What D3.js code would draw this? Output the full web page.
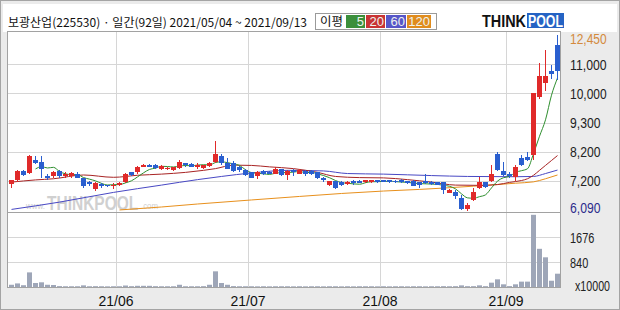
<!DOCTYPE html>
<html>
<head>
<meta charset="utf-8">
<script src="https://cdn.jsdelivr.net/npm/d3@7"></script>
<style>
  html, body { margin: 0; padding: 0; background: #e9e9e9; }
  svg { display: block; }
</style>
</head>
<body>
<svg id="chart" width="620" height="310"></svg>
<script>
// ---- data ----
const title = "보광산업(225530) · 일간(92일) 2021/05/04 ~ 2021/09/13";

// daily candles, 92 trading days 2021/05/04 .. 2021/09/13
const opens = [7070,7220,7530,7460,7900,7840,7340,7360,7530,7340,7340,7440,7270,7140,6900,7060,7030,6980,7020,7130,
  7480,7480,7670,7750,7750,7590,7580,7560,7640,7790,7770,7650,7640,7710,7850,8050,7810,7820,7670,7550,
  7480,7350,7520,7500,7440,7590,7380,7550,7440,7520,7530,7480,7290,7030,7170,7150,7080,7190,7190,7130,
  7130,7210,7210,7210,7200,7220,7180,7190,7130,7180,7140,7130,7130,6750,6780,6560,6140,6470,6930,7130,
  7170,8100,7520,7440,7330,7960,8020,8080,9900,10350,10750,11950];
const highs = [7230,7560,7560,8080,8040,8040,7420,7530,7560,7490,7490,7480,7290,7200,7140,7090,7050,7090,7130,7460,
  7510,7700,7770,7770,7770,7730,7670,7680,7910,7800,7790,7790,7750,7840,8580,8100,7960,7860,7700,7580,
  7490,7530,7550,7530,7650,7610,7550,7600,7580,7550,7560,7490,7320,7200,7200,7170,7180,7220,7220,7230,
  7230,7230,7230,7230,7230,7250,7200,7220,7160,7440,7180,7160,7140,6870,6840,6650,6370,6930,7330,7160,
  7730,8170,7840,7480,7720,8070,8190,10000,11050,11700,10950,12450];
const lows = [6920,7160,7360,7420,7770,7270,7230,7270,7300,7270,7300,7270,6920,7000,6810,6940,6960,6890,6980,7090,
  7360,7440,7650,7670,7610,7560,7550,7530,7610,7680,7650,7610,7610,7680,7820,7750,7580,7490,7510,7360,
  7270,7240,7390,7410,7410,7360,7210,7360,7410,7370,7390,7250,7130,7000,6900,7000,7050,7050,7090,7090,
  7110,7110,7130,7090,7110,7090,7070,6980,6940,7070,7050,7020,6690,6720,6530,6100,6090,6440,6900,6940,
  7140,7530,7360,7300,7170,7700,7870,7900,9860,10060,10500,10450];
const closes = [7210,7520,7390,8060,7810,7600,7300,7500,7340,7410,7460,7300,7000,7060,7110,7000,7000,7050,7090,7420,
  7390,7670,7750,7680,7640,7710,7630,7670,7850,7720,7670,7750,7730,7820,8130,7790,7610,7520,7550,7380,
  7300,7500,7420,7440,7610,7380,7520,7500,7550,7410,7420,7270,7210,7170,6930,7030,7150,7090,7110,7210,
  7210,7160,7150,7130,7140,7130,7110,7010,7030,7110,7080,7050,6850,6840,6630,6160,6310,6780,7130,6970,
  7440,7560,7380,7350,7670,7730,7900,9990,10600,10600,10650,10750];
// volume, x10000 shares
const volumes = [75,120,60,490,134,157,75,67,30,25,25,25,55,25,28,25,22,25,25,50,
  28,40,40,40,28,25,25,25,75,25,25,25,28,75,525,134,75,30,25,25,
  25,22,25,22,25,25,25,22,25,22,25,25,22,25,25,22,25,22,25,25,
  25,22,25,22,25,25,22,25,25,22,25,25,28,25,28,55,28,28,55,28,
  145,257,90,30,90,180,180,2420,1280,995,210,446];

// moving averages: [day index, price]
const ma20 = [[0,7140],[4,7220],[7,7260],[12,7390],[17,7310],[21,7380],[25,7420],[29,7480],[32,7550],[34,7610],
  [37,7730],[40,7720],[43,7670],[47,7610],[51,7480],[54,7340],[58,7300],[62,7290],[66,7230],[70,7140],
  [74,7030],[78,7020],[81,7050],[83,7130],[85,7200],[86,7260],[87,7380],[88,7550],[89,7720],[90,7890],[91,8060]];
const ma60 = [[0,6130],[8,6400],[17,6760],[25,7030],[31,7230],[35,7340],[40,7460],[46,7550],[52,7530],[56,7440],
  [62,7420],[70,7370],[76,7340],[84,7330],[87,7340],[89,7440],[91,7560]];
const ma120 = [[18,6110],[25,6220],[31,6330],[40,6480],[48,6610],[55,6720],[62,6810],[68,6870],[72,6920],[77,6990],
  [81,7050],[84,7100],[87,7150],[89,7260],[91,7390]];

const monthIdx = [18, 40, 62, 83];
const monthLabels = ["21/06", "21/07", "21/08", "21/09"];
const priceTicks = [12450, 11000, 10000, 9300, 8200, 7200, 6090];
const priceTickLabels = ["12,450", "11,000", "10,000", "9,300", "8,200", "7,200", "6,090"];
const volTicks = [1676, 840];
const legendItems = ["5", "20", "60", "120"];

// ---- setup ----
const W = 620, H = 310;
const padL = 8, padR = 560, padT = 32, padMid = 212, padB = 287;
const UP = "#e02a2a", DOWN = "#2a5fcf";
const legendColors = ["#3b8f3b", "#c83434", "#5656c8", "#e08c1e"];
const maColors = { ma5: "#2f8f2f", ma20: "#a82424", ma60: "#4848c4", ma120: "#e8901c" };

const svg = d3.select("#chart");
const N = closes.length;

const x = d3.scaleBand().domain(d3.range(N)).range([padL, padR]);
// the price axis of this chart is not linear, so map through the labelled levels
const y = d3.scaleLinear()
  .domain([6090, 7200, 8200, 9300, 10000, 11000, 12450])
  .range([210.5, 180.5, 151.5, 122.5, 93, 64, 35]);
const yv = d3.scaleLinear().domain([0, 2514]).range([padB, padMid]);
const cx = i => x(i) + 3.5;

// backgrounds
svg.append("rect").attr("x", 0.5).attr("y", 0.5).attr("width", W - 1).attr("height", H - 1)
  .attr("fill", "#ebebeb").attr("stroke", "#a4a4a4");
svg.append("rect").attr("x", 3).attr("y", 4).attr("width", W - 6).attr("height", padT - 4).attr("fill", "#fff");
svg.append("rect").attr("x", padL).attr("y", padT).attr("width", padR - padL).attr("height", padB - padT)
  .attr("fill", "#fff");

// grid
const grid = svg.append("g").attr("stroke", "#d6d6d6").attr("stroke-width", 1).attr("shape-rendering", "crispEdges");
grid.selectAll("line.h").data(priceTicks.slice(1, -1)).join("line")
  .attr("x1", padL).attr("x2", padR)
  .attr("y1", d => Math.round(y(d)) + 0.5).attr("y2", d => Math.round(y(d)) + 0.5);
grid.selectAll("line.v").data(volTicks).join("line")
  .attr("x1", padL).attr("x2", padR)
  .attr("y1", d => Math.round(yv(d)) + 0.5).attr("y2", d => Math.round(yv(d)) + 0.5);
grid.selectAll("line.m").data(monthIdx).join("line")
  .attr("x1", i => x(i) + 0.5).attr("x2", i => x(i) + 0.5)
  .attr("y1", padT).attr("y2", padB);

// watermark
const wm = svg.append("g").attr("fill", "#d0d0d0").attr("font-family", "Liberation Sans, Arial, sans-serif");
wm.append("text").attr("x", 26).attr("y", 209).attr("font-size", 9)
  .attr("textLength", 19).attr("lengthAdjust", "spacingAndGlyphs").text("www.");
wm.append("text").attr("transform", "translate(47,210) scale(1,1.3)")
  .attr("font-size", 15.5).attr("font-weight", "bold").text("THINKPOOL");
wm.append("text").attr("x", 141).attr("y", 209).attr("font-size", 9)
  .attr("textLength", 17).attr("lengthAdjust", "spacingAndGlyphs").text(".com");

// volume bars
svg.append("g").selectAll("rect").data(d3.range(N)).join("rect")
  .attr("x", i => x(i) + 1).attr("width", 5)
  .attr("y", i => yv(volumes[i])).attr("height", i => padB - yv(volumes[i]))
  .attr("fill", "#9ea6b8");

// moving averages
const line = d3.line().x(d => cx(d[0])).y(d => y(d[1])).curve(d3.curveMonotoneX);
const ma5 = d3.range(4, N).map(i => [i, d3.mean(closes.slice(i - 4, i + 1))]);
[[ma120, maColors.ma120], [ma60, maColors.ma60], [ma20, maColors.ma20], [ma5, maColors.ma5]].forEach(([pts, c]) => {
  svg.append("path").attr("d", line(pts)).attr("fill", "none").attr("stroke", c).attr("stroke-width", 1);
});

// candles
const col = i => (closes[i] >= opens[i] ? UP : DOWN);
const cg = svg.append("g").attr("shape-rendering", "crispEdges");
cg.selectAll("line").data(d3.range(N)).join("line")
  .attr("x1", cx).attr("x2", cx)
  .attr("y1", i => y(highs[i])).attr("y2", i => y(lows[i]))
  .attr("stroke", col);
cg.selectAll("rect").data(d3.range(N)).join("rect")
  .attr("x", i => x(i) + 1).attr("width", 5)
  .attr("y", i => y(Math.max(opens[i], closes[i])))
  .attr("height", i => Math.max(1, Math.abs(y(opens[i]) - y(closes[i]))))
  .attr("fill", col);

// frame
const fr = svg.append("g").attr("stroke", "#a2a2a2").attr("fill", "none").attr("shape-rendering", "crispEdges");
fr.append("rect").attr("x", padL - 0.5).attr("y", padT - 0.5).attr("width", padR - padL + 1).attr("height", padB - padT + 1);
fr.append("line").attr("x1", padL).attr("x2", padR).attr("y1", padMid + 0.5).attr("y2", padMid + 0.5);

// right axis labels
const lab = svg.append("g").attr("font-family", "Liberation Sans, Arial, sans-serif").attr("font-size", 14);
lab.selectAll("text.p").data(priceTicks).join("text")
  .attr("x", 570)
  .attr("y", d => Math.min(Math.max(y(d), 38), 207.5) + 5.5)
  .attr("fill", (d, i) => (i === 0 ? "#d48a3c" : i === priceTicks.length - 1 ? "#2c2c8c" : "#222"))
  .attr("textLength", (d, i) => priceTickLabels[i].length * 6.1)
  .attr("lengthAdjust", "spacingAndGlyphs")
  .text((d, i) => priceTickLabels[i]);
lab.selectAll("text.v").data(volTicks).join("text")
  .attr("x", 570).attr("y", d => yv(d) + 6).attr("fill", "#222")
  .attr("textLength", d => String(d).length * 6.1).attr("lengthAdjust", "spacingAndGlyphs")
  .text(d => d);
lab.append("text").attr("x", 575).attr("y", 291).attr("fill", "#222")
  .attr("textLength", 35).attr("lengthAdjust", "spacingAndGlyphs").text("x10000");

// month labels
svg.append("g").attr("font-family", "Liberation Sans, Arial, sans-serif").attr("font-size", 15).attr("fill", "#111")
  .selectAll("text").data(monthIdx).join("text")
  .attr("x", i => x(i)).attr("y", 306).attr("text-anchor", "middle")
  .attr("textLength", 35).attr("lengthAdjust", "spacingAndGlyphs")
  .text((d, i) => monthLabels[i]);

// header
svg.append("text").attr("x", 8).attr("y", 27)
  .attr("font-family", "Noto Sans CJK KR, sans-serif").attr("font-size", 12).attr("fill", "#111")
  .attr("textLength", 299).attr("lengthAdjust", "spacingAndGlyphs").text(title);

const lg = svg.append("g").attr("font-family", "Noto Sans CJK KR, sans-serif").attr("font-size", 12);
lg.append("rect").attr("x", 315.5).attr("y", 13.5).attr("width", 121).attr("height", 16)
  .attr("fill", "#fff").attr("stroke", "#9a9a9a");
lg.append("text").attr("x", 320).attr("y", 26).attr("fill", "#111")
  .attr("textLength", 23).attr("lengthAdjust", "spacingAndGlyphs").text("이평");
const boxX = [346, 366, 386, 407], boxW = [19, 19, 20, 24];
legendItems.forEach((t, k) => {
  lg.append("rect").attr("x", boxX[k]).attr("y", 15).attr("width", boxW[k]).attr("height", 13).attr("fill", legendColors[k]);
  lg.append("text").attr("x", boxX[k] + boxW[k] - 1).attr("y", 26).attr("text-anchor", "end")
    .attr("font-family", "Liberation Sans, Arial, sans-serif").attr("font-size", 13)
    .attr("fill", "#eef2ee").text(t);
});

// logo
const logo = svg.append("g").attr("font-family", "Liberation Sans, Arial, sans-serif").attr("font-weight", "bold");
logo.append("text").attr("x", 482).attr("y", 27).attr("font-size", 16).attr("fill", "#111")
  .attr("textLength", 44).attr("lengthAdjust", "spacingAndGlyphs").text("THINK");
logo.append("rect").attr("x", 527).attr("y", 13).attr("width", 37).attr("height", 15).attr("fill", "#2563c4");
logo.append("text").attr("x", 528).attr("y", 27).attr("font-size", 16).attr("fill", "#fff")
  .attr("textLength", 35).attr("lengthAdjust", "spacingAndGlyphs").text("POOL");
</script>
</body>
</html>
